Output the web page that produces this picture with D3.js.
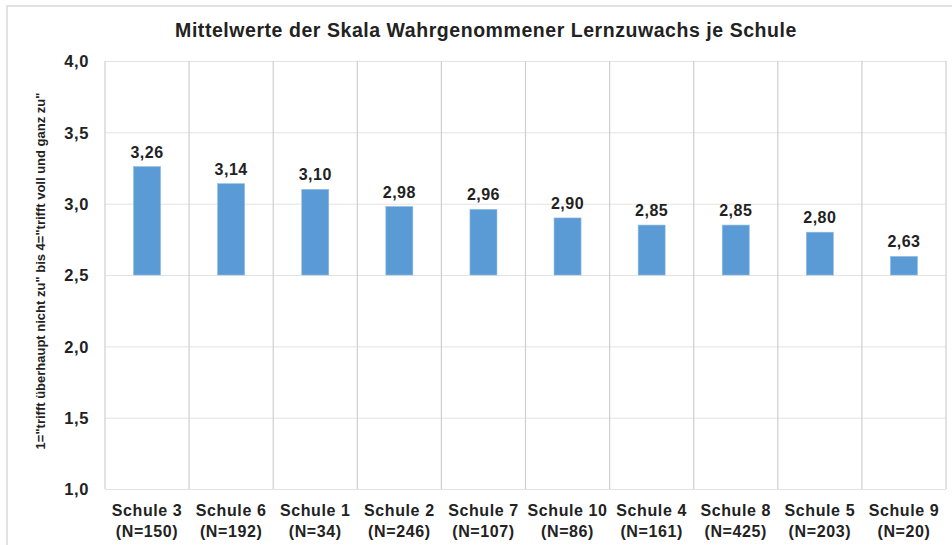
<!DOCTYPE html>
<html><head><meta charset="utf-8">
<script src="https://cdn.jsdelivr.net/npm/d3@7/dist/d3.min.js"></script>
<style>
html,body{margin:0;padding:0;background:#fff;}
text{font-family:"Liberation Sans",Arial,sans-serif;fill:#222;}
</style></head>
<body>
<svg id="chart" width="952" height="545"></svg>
<script>
const schools = ["Schule 3","Schule 6","Schule 1","Schule 2","Schule 7","Schule 10","Schule 4","Schule 8","Schule 5","Schule 9"];
const sampleSizes = ["(N=150)","(N=192)","(N=34)","(N=246)","(N=107)","(N=86)","(N=161)","(N=425)","(N=203)","(N=20)"];
const means = [3.26,3.14,3.10,2.98,2.96,2.90,2.85,2.85,2.80,2.63];
const baseline = 2.5;
const yTicks = [1.0,1.5,2.0,2.5,3.0,3.5,4.0];
const title = "Mittelwerte der Skala Wahrgenommener Lernzuwachs je Schule";
const yTitle = '1="trifft überhaupt nicht zu" bis 4="trifft voll und ganz zu"';

(function(){
const svg = d3.select("#chart");
const pL = 105, pR = 946, pT = 61, pB = 489;
const fmt = v => d3.format(".2f")(v).replace(".", ",");
const fmt1 = v => d3.format(".1f")(v).replace(".", ",");

// outer frame
svg.append("rect").attr("x",7).attr("y",6).attr("width",960).attr("height",560)
  .attr("fill","none").attr("stroke","#d9d9d9").attr("stroke-width",1.5);

const x = d3.scaleBand().domain(schools).range([pL,pR]).paddingInner(0).paddingOuter(0);
const y = d3.scaleLinear().domain([1,4]).range([pB,pT]);

// horizontal gridlines
svg.append("g").selectAll("line").data(yTicks).join("line")
  .attr("x1",pL).attr("x2",pR)
  .attr("y1",d=>y(d)+0.5).attr("y2",d=>y(d)+0.5)
  .attr("stroke","#e3e3e3").attr("stroke-width",1);

// vertical gridlines (category separators)
const seps = schools.map(s=>x(s)).concat([x(schools[schools.length-1])+x.bandwidth()]);
svg.append("g").selectAll("line").data(seps).join("line")
  .attr("x1",d=>d).attr("x2",d=>d)
  .attr("y1",pT).attr("y2",pB)
  .attr("stroke","#cfcfcf").attr("stroke-width",1.2);

// y tick labels
const yAxis = d3.axisLeft(y).tickValues(yTicks).tickFormat(fmt1).tickSize(0).tickPadding(0);
const ya = svg.append("g").attr("transform",`translate(89,0)`).call(yAxis);
ya.select(".domain").remove();
ya.selectAll("text").attr("font-size",16.5).attr("font-weight","bold")
  .attr("letter-spacing","0.6px")
  .style("font-family",'"Liberation Sans",Arial,sans-serif').attr("fill","#222").attr("dy","0.35em");

// bars
const bw = 27;
svg.append("g").selectAll("rect").data(means).join("rect")
  .attr("x",(d,i)=>x(schools[i])+x.bandwidth()/2-bw/2)
  .attr("width",bw)
  .attr("y",d=>y(d))
  .attr("height",d=>y(baseline)-y(d))
  .attr("fill","#5b9bd5").attr("stroke","#8fbbe5").attr("stroke-width",0.6);

// value labels
svg.append("g").selectAll("text").data(means).join("text")
  .attr("x",(d,i)=>x(schools[i])+x.bandwidth()/2)
  .attr("y",d=>y(d)-9)
  .attr("text-anchor","middle").attr("font-size",16).attr("font-weight","bold")
  .attr("letter-spacing","0.5px")
  .text(d=>fmt(d));

// x labels
const xl = svg.append("g").selectAll("text").data(schools).join("text")
  .attr("x",d=>x(d)+x.bandwidth()/2)
  .attr("text-anchor","middle").attr("font-size",16).attr("font-weight","bold")
  .attr("letter-spacing","0.6px");
xl.append("tspan").attr("x",d=>x(d)+x.bandwidth()/2).attr("y",516).text(d=>d);
xl.append("tspan").attr("x",d=>x(d)+x.bandwidth()/2).attr("y",537).text((d,i)=>sampleSizes[i]);

// title
svg.append("text").attr("x",486).attr("y",37).attr("text-anchor","middle")
  .attr("font-size",19.5).attr("font-weight","bold").attr("letter-spacing","0.55px").text(title);

// y title
svg.append("text").attr("transform","translate(45,271) rotate(-90)")
  .attr("text-anchor","middle").attr("font-size",13).attr("font-weight","bold").text(yTitle);
})();
</script>
</body></html>
